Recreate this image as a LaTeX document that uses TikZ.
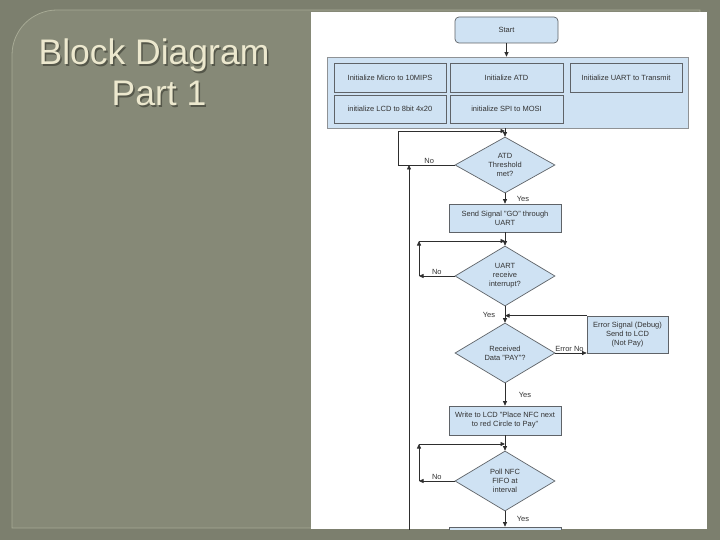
\documentclass[tikz,border=0pt]{standalone}
\usepackage{fontspec}
\setmainfont{Liberation Sans}
\usetikzlibrary{positioning, arrows.meta, calc, shapes.geometric}
\definecolor{outerBg}{HTML}{7C7F6E}
\definecolor{innerBg}{HTML}{868977}
\definecolor{panelLine}{HTML}{A7AA95}
\definecolor{titleColor}{HTML}{ECE8CE}
\definecolor{titleShade}{HTML}{55574A}
\definecolor{boxFill}{HTML}{CFE2F3}
\definecolor{boxLine}{HTML}{5F6368}
\definecolor{flowLine}{HTML}{2E2E2E}
\definecolor{textGrey}{HTML}{333333}
\tikzset{
    title text/.style={
        font=\fontsize{35.5}{41}\selectfont,
        text=#1,
        inner sep=0pt,
        anchor=base,
    },
    proc box/.style={
        rectangle,
        fill=boxFill,
        draw=boxLine,
        line width=0.7pt,
        text=textGrey,
        font=\fontsize{7.5}{9}\selectfont,
        align=center,
        minimum width=112pt,
        minimum height=28pt,
        inner sep=2pt,
    },
    group box/.style={
        rectangle,
        fill=boxFill,
        draw=boxLine!70,
        line width=0.7pt,
        minimum width=361pt,
        minimum height=71pt,
    },
    decision/.style={
        diamond,
        aspect=1.7,
        fill=boxFill,
        draw=boxLine,
        line width=0.7pt,
        text=textGrey,
        font=\fontsize{7.5}{9}\selectfont,
        align=center,
        minimum width=100pt,
        minimum height=58pt,
        inner sep=0pt,
    },
    flow/.style={
        -{Triangle[length=4.5pt, width=4pt]},
        line width=0.7pt,
        draw=flowLine,
    },
    branch label/.style={
        font=\fontsize{7.5}{9}\selectfont,
        text=textGrey,
        inner sep=1.5pt,
    },
}

\begin{document}
\begin{tikzpicture}[x=1pt, y=-1pt]

\useasboundingbox (0,0) rectangle (720,540);

% ── BACKGROUND ─────────────────────────────────────────────────────

\fill[outerBg] (0,0) rectangle (720,540);
\filldraw[fill=innerBg, draw=panelLine, line width=0.8pt]
    (700,528) -- (12,528) -- (12,55) arc[start angle=180, end angle=270, radius=45] -- (700,10) -- cycle;
\fill[white] (311,12) rectangle (707,529);

% ── TITLE ──────────────────────────────────────────────────────────

\node[title text=titleShade] (titleAshade) at (155.5,66.5) {Block Diagram};
\node[title text=titleShade] (titleBshade) at (160.5,107.5) {Part 1};
\node[title text=titleColor] (titleA) at (154,65) {Block Diagram};
\node[title text=titleColor] (titleB) at (159,106) {Part 1};

\begin{scope}
\clip (311,12) rectangle (707,529);

% ── INITIALISATION ─────────────────────────────────────────────────

\node[proc box, minimum width=103pt, minimum height=26pt, rounded corners=4pt] (start) at (506.5,30) {Start};

\node[group box] (initgroup) at (507.5,92.5) {};
\node[proc box, minimum height=29pt] (initmicro) at (390,77.5) {Initialize Micro to 10MIPS};
\node[proc box, minimum width=113pt, minimum height=29pt] (initatd) at (506.5,77.5) {Initialize ATD};
\node[proc box, minimum height=29pt] (inituart) at (626,77.5) {Initialize UART to Transmit};
\node[proc box] (initlcd) at (390,109) {initialize LCD to 8bit 4x20};
\node[proc box, minimum width=113pt] (initspi) at (506.5,109) {initialize SPI to MOSI};

% ── MAIN FLOW ──────────────────────────────────────────────────────

\node[decision, minimum height=56pt] (atd) at (505,165) {ATD\\Threshold\\met?};
\node[proc box] (sendgo) at (505,218) {Send Signal "GO" through\\UART};
\node[decision, minimum height=60pt] (uartint) at (505,276) {UART\\receive\\interrupt?};
\node[decision, minimum height=60pt] (recvpay) at (505,353) {Received\\Data "PAY"?};
\node[proc box, minimum width=81pt, minimum height=37pt] (errsig) at (627.5,334.5) {Error Signal (Debug)\\Send to LCD\\(Not Pay)};
\node[proc box, minimum height=29pt] (writelcd) at (505,420.5) {Write to LCD "Place NFC next\\to red Circle to Pay"};
\node[decision, minimum height=60pt] (pollnfc) at (505,481) {Poll NFC\\FIFO at\\interval};
\node[proc box] (nextstep) at (505,541) {};

% ── LOOP POINTS ────────────────────────────────────────────────────

\coordinate (atdtop) at (505,131);
\coordinate (atdleft) at (398,165);
\coordinate (retbottom) at (409,532);
\coordinate (uarttop) at (505,241);
\coordinate (uartleft) at (419,276);
\coordinate (polltop) at (505,444);
\coordinate (pollleft) at (419,481);

% ── CONNECTORS ─────────────────────────────────────────────────────

\draw[flow] (start.south) -- (start.south |- initgroup.north);
\draw[flow] (atd.north |- initgroup.south) -- (atd.north);

% ATD threshold loop
\draw[flow] (atd.west) -- node[branch label, above, pos=0.45]{No} (atdleft) |- (atdtop);
\draw[flow] (retbottom) -- (retbottom |- atd.west);

\draw[flow] (atd.south) -- node[branch label, right=10pt]{Yes} (sendgo.north);
\draw[flow] (sendgo.south) -- (uartint.north);

% UART interrupt loop
\draw[flow] (uartint.west) -- node[branch label, above]{No} (uartleft);
\draw[flow] (uartleft) -- (uartleft |- uarttop);
\draw[flow] (uartleft |- uarttop) -- (uarttop);

\draw[flow] (uartint.south) -- node[branch label, left=8pt]{Yes} (recvpay.north);

% Error branch
\draw[flow] (recvpay.east) -- node[branch label, above, pos=0.45]{Error No} (errsig.west |- recvpay.east);
\draw[flow] (errsig.north west) -- (recvpay.north |- errsig.north);

\draw[flow] (recvpay.south) -- node[branch label, right=12pt]{Yes} (writelcd.north);
\draw[flow] (writelcd.south) -- (pollnfc.north);

% NFC poll loop
\draw[flow] (pollnfc.west) -- node[branch label, above]{No} (pollleft);
\draw[flow] (pollleft) -- (pollleft |- polltop);
\draw[flow] (pollleft |- polltop) -- (polltop);

\draw[flow] (pollnfc.south) -- node[branch label, right=10pt]{Yes} (nextstep.north);

\end{scope}

\end{tikzpicture}
\end{document}
